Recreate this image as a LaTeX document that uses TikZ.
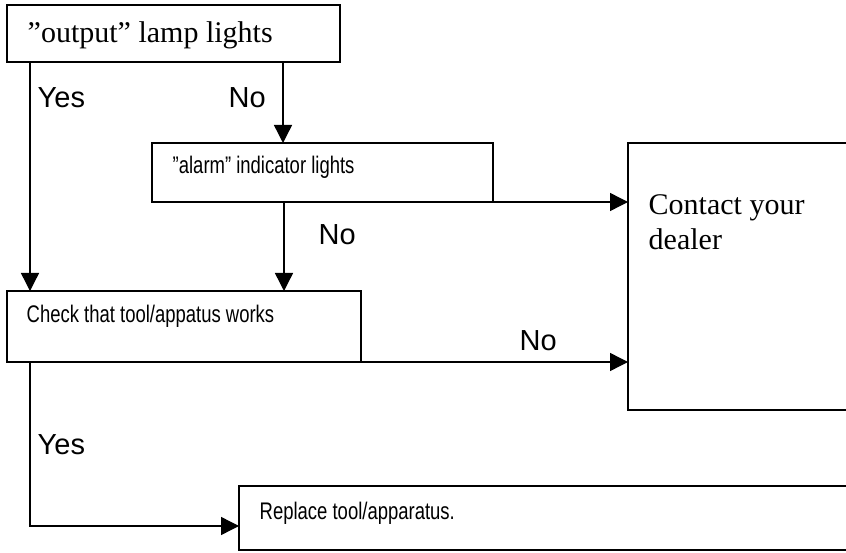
\documentclass[tikz,border=0pt]{standalone}
\usepackage{fontspec}
\setmainfont{Liberation Serif}
\newfontfamily\lblfont{Liberation Sans}
\newfontfamily\boxfont[FakeStretch=0.77]{Liberation Sans}
\usetikzlibrary{arrows.meta,calc}
\begin{document}
\begin{tikzpicture}[x=1pt,y=-1pt,line width=1.4pt,
  box/.style={draw,rectangle,inner sep=0pt,outer sep=0pt,anchor=north west},
  arr/.style={-{Triangle[length=18pt,width=18pt]}},
  lbl/.style={font=\lblfont\fontsize{29}{34}\selectfont,anchor=base west,inner sep=0pt},
  btxt/.style={font=\boxfont\fontsize{24}{28}\selectfont,anchor=base west,inner sep=0pt},
  stxt/.style={font=\fontsize{30}{35}\selectfont,anchor=base west,inner sep=0pt,align=left}]
\useasboundingbox (0,0) rectangle (846,553);
\fill[white] (0,0) rectangle (846,553);
\clip (0,0) rectangle (846,553);
% boxes
\node[box,minimum width=333pt,minimum height=57pt] (out) at (7,5) {};
\node[box,minimum width=341pt,minimum height=59pt] (alarm) at (152,143) {};
\node[box,minimum width=222pt,minimum height=267pt] (contact) at (628,143) {};
\node[box,minimum width=354pt,minimum height=71pt] (check) at (7,291) {};
\node[box,minimum width=611pt,minimum height=64pt] (replace) at (239,486) {};
% box texts
\node[stxt] (outtxt) at ($(out.north west)+(20,38)$) {”output” lamp lights};
\node[btxt] (alarmtxt) at ($(alarm.north west)+(20,31)$) {”alarm” indicator lights};
\node[stxt] (contacttxt) at ($(contact.north west)+(20,107)$) {Contact your\\dealer};
\node[btxt] (checktxt) at ($(check.north west)+(19,32)$) {Check that tool/appatus works};
\node[btxt] (reptxt) at ($(replace.north west)+(20,33)$) {Replace tool/apparatus.};
% connectors
\draw[arr] ([xshift=23pt]out.south west) -- ([xshift=23pt]check.north west);
\draw[arr] ([xshift=276pt]out.south west) -- ([xshift=276pt]out.south west |- alarm.north);
\draw[arr] ([xshift=132pt]alarm.south west) -- ([xshift=132pt]alarm.south west |- check.north);
\draw[arr] (alarm.south east) -- (alarm.south east -| contact.west);
\draw[arr] (check.south east) -- (check.south east -| contact.west);
\draw[arr] ([xshift=23pt]check.south west) |- ([yshift=-8pt]replace.west);
% labels
\node[lbl] (yes1) at (37,108) {Yes};
\node[lbl] (no1) at (228,108) {No};
\node[lbl] (no2) at (318,245) {No};
\node[lbl] (no3) at (519,350) {No};
\node[lbl] (yes2) at (37,454) {Yes};
\end{tikzpicture}
\end{document}
